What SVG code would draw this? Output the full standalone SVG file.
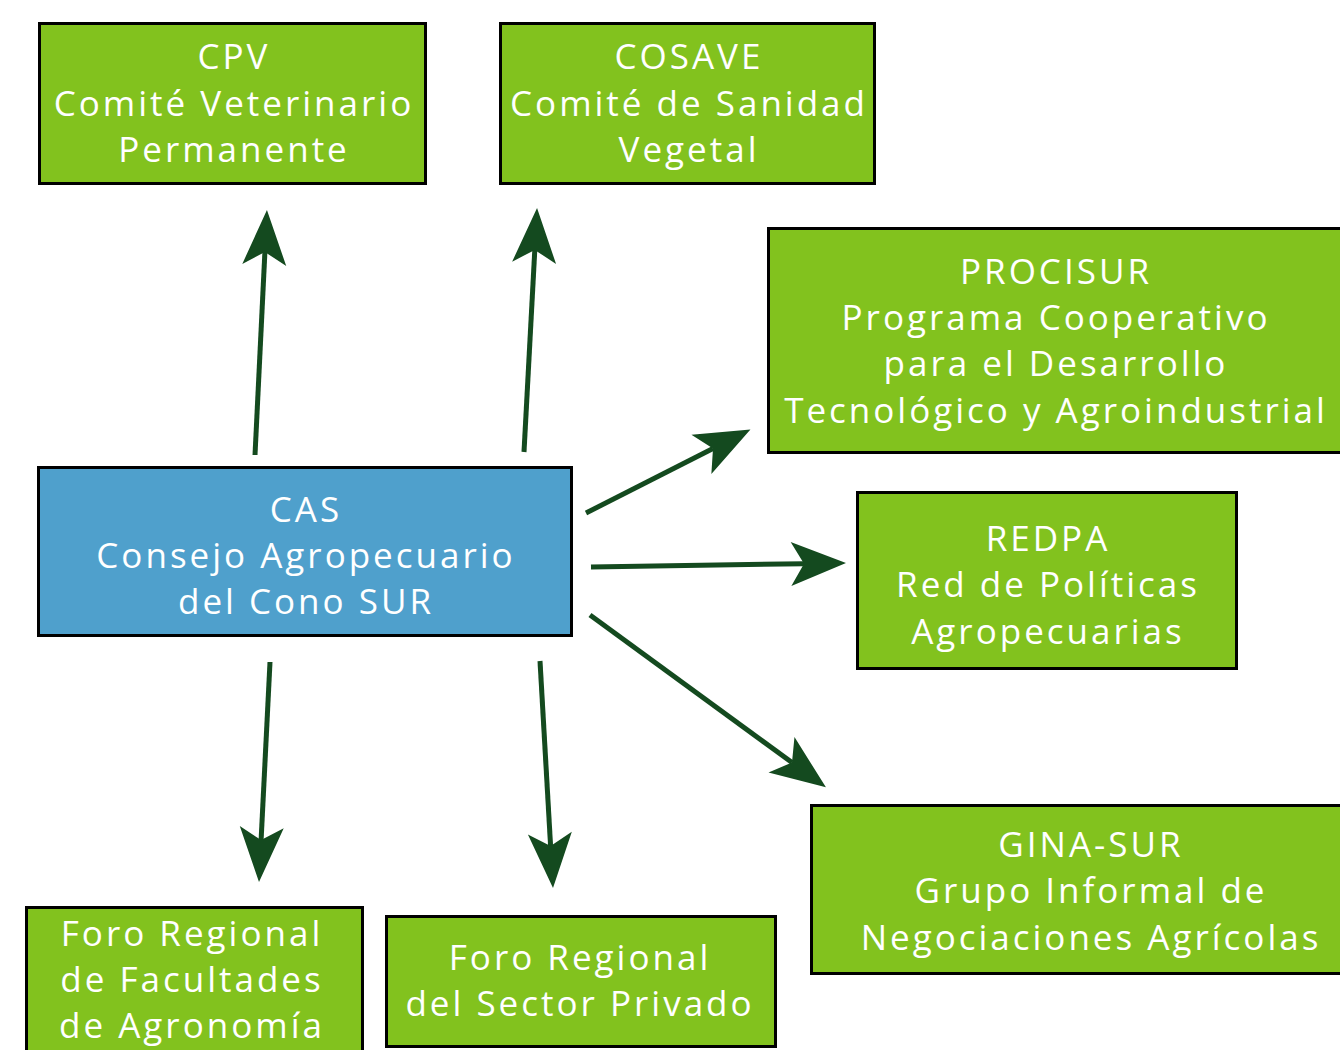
<svg xmlns="http://www.w3.org/2000/svg" width="1340" height="1050" viewBox="0 0 1340 1050">
<defs>
<style>
.g{fill:#82c21e;stroke:#000;stroke-width:3}
.b{fill:#4fa0cc;stroke:#000;stroke-width:3}
text{font-family:"Open Sans","DejaVu Sans",sans-serif;font-size:35px;fill:#fff;text-anchor:middle;letter-spacing:3px}
.c{stroke:#144a1f;stroke-width:5;fill:none;marker-end:url(#ah)}
</style>
<marker id="ah" markerUnits="userSpaceOnUse" viewBox="-15 -25 60 50" refX="0" refY="0" markerWidth="60" markerHeight="50" orient="auto" overflow="visible">
<path d="M42,0 L-13,-22 L0,0 L-13,22 Z" fill="#144a1f"/>
</marker>
</defs>
<rect width="1340" height="1050" fill="#fff"/>
<g id="connectors">
<line class="c" x1="255" y1="455" x2="264.9" y2="252"/>
<line class="c" x1="524" y1="452" x2="534.8" y2="249.9"/>
<line class="c" x1="586" y1="513" x2="713" y2="448.5"/>
<line class="c" x1="591" y1="567" x2="804" y2="563.7"/>
<line class="c" x1="590" y1="615" x2="792" y2="762.5"/>
<line class="c" x1="270" y1="662" x2="261.1" y2="840.1"/>
<line class="c" x1="540" y1="661" x2="550.6" y2="846.1"/>
</g>
<g id="cpv">
<rect class="g" x="39.5" y="23.5" width="386" height="160"/>
<text x="234" y="69">CPV</text>
<text x="234" y="116">Comité Veterinario</text>
<text x="234" y="162">Permanente</text>
</g>
<g id="cosave">
<rect class="g" x="500.5" y="23.5" width="374" height="160"/>
<text x="689" y="69">COSAVE</text>
<text x="689" y="116">Comité de Sanidad</text>
<text x="689" y="162">Vegetal</text>
</g>
<g id="procisur">
<rect class="g" x="768.5" y="228.5" width="580" height="224"/>
<text x="1056" y="284">PROCISUR</text>
<text x="1056" y="330">Programa Cooperativo</text>
<text x="1056" y="376">para el Desarrollo</text>
<text x="1056" y="423">Tecnológico y Agroindustrial</text>
</g>
<g id="cas">
<rect class="b" x="38.5" y="467.5" width="533" height="168"/>
<text x="306" y="522">CAS</text>
<text x="306" y="568">Consejo Agropecuario</text>
<text x="306" y="614">del Cono SUR</text>
</g>
<g id="redpa">
<rect class="g" x="857.5" y="492.5" width="379" height="176"/>
<text x="1048" y="551">REDPA</text>
<text x="1048" y="597">Red de Políticas</text>
<text x="1048" y="644">Agropecuarias</text>
</g>
<g id="ginasur">
<rect class="g" x="811.5" y="805.5" width="540" height="168"/>
<text x="1091" y="857">GINA-SUR</text>
<text x="1091" y="903">Grupo Informal de</text>
<text x="1091" y="950">Negociaciones Agrícolas</text>
</g>
<g id="foro-facultades">
<rect class="g" x="26.5" y="907.5" width="336" height="160"/>
<text x="192" y="946">Foro Regional</text>
<text x="192" y="992">de Facultades</text>
<text x="192" y="1038">de Agronomía</text>
</g>
<g id="foro-privado">
<rect class="g" x="386.5" y="916.5" width="389" height="130"/>
<text x="580" y="970">Foro Regional</text>
<text x="580" y="1016">del Sector Privado</text>
</g>
</svg>
